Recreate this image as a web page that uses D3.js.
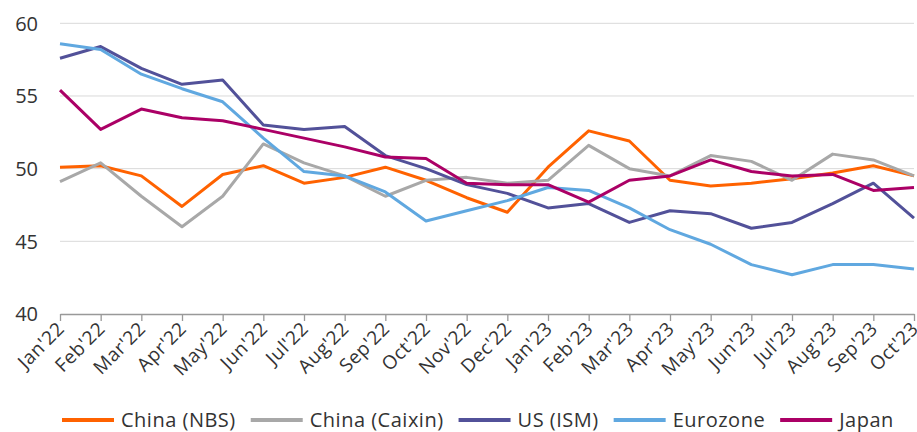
<!DOCTYPE html>
<html><head><meta charset="utf-8">
<script src="https://cdn.jsdelivr.net/npm/d3@7"></script>
<style>body{margin:0;background:#fff;}svg{display:block;font-family:"Open Sans",sans-serif;}</style>
</head><body><svg id="c" width="917" height="432"></svg>
<script>
const months = ["Jan'22","Feb'22","Mar'22","Apr'22","May'22","Jun'22","Jul'22","Aug'22","Sep'22","Oct'22","Nov'22","Dec'22","Jan'23","Feb'23","Mar'23","Apr'23","May'23","Jun'23","Jul'23","Aug'23","Sep'23","Oct'23"];
const chinaNBS    = [50.1,50.2,49.5,47.4,49.6,50.2,49.0,49.4,50.1,49.2,48.0,47.0,50.1,52.6,51.9,49.2,48.8,49.0,49.3,49.7,50.2,49.5];
const chinaCaixin = [49.1,50.4,48.1,46.0,48.1,51.7,50.4,49.5,48.1,49.2,49.4,49.0,49.2,51.6,50.0,49.5,50.9,50.5,49.2,51.0,50.6,49.5];
const usISM       = [57.6,58.4,56.9,55.8,56.1,53.0,52.7,52.9,50.9,50.0,48.9,48.3,47.3,47.6,46.3,47.1,46.9,45.9,46.3,47.6,49.0,46.6];
const eurozone    = [58.6,58.2,56.5,55.5,54.6,52.1,49.8,49.5,48.4,46.4,47.1,47.8,48.7,48.5,47.3,45.8,44.8,43.4,42.7,43.4,43.4,43.1];
const japan       = [55.4,52.7,54.1,53.5,53.3,52.7,52.1,51.5,50.8,50.7,49.0,48.9,48.9,47.7,49.2,49.5,50.6,49.8,49.5,49.6,48.5,48.7];
const yTicks = [40,45,50,55,60];
const seriesNames = ["China (NBS)","China (Caixin)","US (ISM)","Eurozone","Japan"];
const seriesData = [chinaNBS, chinaCaixin, usISM, eurozone, japan];
const colors = ["#FF6200","#A8A8A8","#525199","#60A8E0","#AB0066"];

const svg = d3.select("#c");
const x = d3.scalePoint().domain(months).range([60, 914]);
const y = d3.scaleLinear().domain([40,60]).range([314, 23.3]);

// gridlines
svg.append("g").selectAll("line").data(yTicks.filter(d=>d>40)).join("line")
  .attr("x1",60).attr("x2",914).attr("y1",d=>y(d)).attr("y2",d=>y(d))
  .attr("stroke","#d9d9d9").attr("stroke-width",1);

// y labels
svg.append("g").selectAll("text").data(yTicks).join("text")
  .attr("x",38).attr("y",d=>y(d)).attr("dy","0.36em").attr("text-anchor","end")
  .attr("font-size",20).attr("fill","#333").text(d=>d);

// x axis
const xa = svg.append("g").attr("transform","translate(0,314)")
  .call(d3.axisBottom(x).tickSize(7).tickPadding(3).tickSizeOuter(0));
xa.select(".domain").attr("stroke","#999").attr("stroke-width",1.3);
xa.selectAll(".tick line").attr("stroke","#999").attr("stroke-width",1.3);
xa.selectAll(".tick text").attr("font-size",19).attr("fill","#333")
  .attr("font-family","'Open Sans',sans-serif").attr("letter-spacing","0.5")
  .attr("text-anchor","end").attr("dy",null).attr("y",0)
  .attr("transform","translate(5,16) rotate(-45)");

// lines
const line = d3.line().x((d,i)=>x(months[i])).y(d=>y(d));
seriesData.forEach((s,k)=>{
  svg.append("path").datum(s).attr("d",line).attr("fill","none")
    .attr("stroke",colors[k]).attr("stroke-width",3).attr("stroke-linejoin","round");
});

// legend
let lx = 62;
const ly = 420;
seriesNames.forEach((n,k)=>{
  svg.append("line").attr("x1",lx).attr("x2",lx+52).attr("y1",ly).attr("y2",ly)
    .attr("stroke",colors[k]).attr("stroke-width",4);
  const t = svg.append("text").attr("x",lx+59).attr("y",ly).attr("dy","0.36em")
    .attr("font-size",20).attr("letter-spacing","0.5").attr("fill","#333").text(n);
  lx += 59 + t.node().getComputedTextLength() + 15;
});
</script></body></html>
